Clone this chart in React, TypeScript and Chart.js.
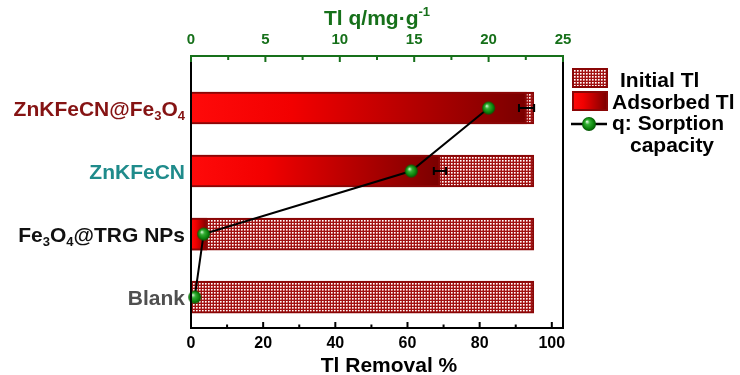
import React, { useEffect, useRef } from 'react';
import { Chart, registerables } from 'chart.js';

Chart.register(...registerables);

// ---- data (bottom to top on the category axis) ----
const categories = ['Blank', 'Fe₃O₄@TRG NPs', 'ZnKFeCN', 'ZnKFeCN@Fe₃O₄'];
const categoryColors = ['#4f4f4f', '#111111', '#1f8b8b', '#851313'];
const initialTl = [95, 95, 95, 95];
const adsorbedTl = [0, 4.4, 69, 93];
const adsorbedErr = [0, 0, 1.7, 2.1];
const sorptionQ = [0.25, 0.85, 14.8, 20.0];
const removalTicks = [0, 20, 40, 60, 80, 100];
const removalMinor = [10, 30, 50, 70, 90];
const qTicks = [0, 5, 10, 15, 20, 25];
const qMinor = [2.5, 7.5, 12.5, 17.5, 22.5];
const legendLabels = ['Initial Tl', 'Adsorbed Tl', 'q: Sorption', 'capacity'];
const bottomTitle = 'Tl Removal %';
const topTitle = 'Tl q/mg·g⁻¹';

const FONT = '"Liberation Sans", Arial, Helvetica, sans-serif';
const GREEN = '#16701a';
const DARKRED = '#8a0606';

const SUBS: Record<string, string> = { '₀': '0', '₁': '1', '₂': '2', '₃': '3', '₄': '4', '₅': '5', '₆': '6', '₇': '7', '₈': '8', '₉': '9' };
const SUPS: Record<string, string> = { '⁻': '-', '¹': '1', '²': '2', '³': '3' };

function segments(text: string) {
  const segs: { t: string; k: number }[] = [];
  for (const ch of text) {
    let k = 0;
    let c = ch;
    if (ch in SUBS) { k = 1; c = SUBS[ch]; }
    else if (ch in SUPS) { k = 2; c = SUPS[ch]; }
    const last = segs[segs.length - 1];
    if (last && last.k === k) last.t += c;
    else segs.push({ t: c, k });
  }
  return segs;
}

function drawRich(ctx: CanvasRenderingContext2D, text: string, x: number, baseline: number, size: number, color: string, align: 'left' | 'right' | 'center') {
  const big = `bold ${size}px ${FONT}`;
  const small = `bold ${Math.round(size * 0.6)}px ${FONT}`;
  const segs = segments(text);
  let w = 0;
  for (const s of segs) { ctx.font = s.k ? small : big; w += ctx.measureText(s.t).width; }
  let cx = align === 'right' ? x - w : align === 'center' ? x - w / 2 : x;
  ctx.fillStyle = color;
  ctx.textAlign = 'left';
  ctx.textBaseline = 'alphabetic';
  for (const s of segs) {
    ctx.font = s.k ? small : big;
    const dy = s.k === 1 ? size * 0.2 : s.k === 2 ? -size * 0.42 : 0;
    ctx.fillText(s.t, cx, baseline + dy);
    cx += ctx.measureText(s.t).width;
  }
}

function makeHatch(): CanvasPattern | string {
  const c = document.createElement('canvas');
  c.width = 3; c.height = 3;
  const g = c.getContext('2d');
  if (!g) return DARKRED;
  g.fillStyle = '#a01212'; g.fillRect(0, 0, 3, 3);
  g.fillStyle = '#e2a8a8'; g.fillRect(2, 1, 1, 1); g.fillRect(1, 2, 1, 1);
  g.fillStyle = '#ffffff'; g.fillRect(1, 1, 1, 1);
  g.fillStyle = '#cc6060'; g.fillRect(2, 2, 1, 1);
  return g.createPattern(c, 'repeat') || DARKRED;
}

function makeBall(r: number) {
  const s = Math.ceil(r * 2 + 2);
  const c = document.createElement('canvas');
  c.width = s; c.height = s;
  const g = c.getContext('2d')!;
  const cx = s / 2, cy = s / 2;
  const grd = g.createRadialGradient(cx - r * 0.3, cy - r * 0.35, r * 0.05, cx, cy, r);
  grd.addColorStop(0, '#d8f8d8');
  grd.addColorStop(0.3, '#35b035');
  grd.addColorStop(0.75, '#0b820b');
  grd.addColorStop(1, '#045204');
  g.fillStyle = grd;
  g.beginPath(); g.arc(cx, cy, r, 0, Math.PI * 2); g.fill();
  return c;
}

function redGradient(g: CanvasRenderingContext2D, x0: number, x1: number) {
  const gr = g.createLinearGradient(x0, 0, x1, 0);
  gr.addColorStop(0, '#ff0a0a');
  gr.addColorStop(0.3, '#f20000');
  gr.addColorStop(1, '#7a0000');
  return gr;
}

export default function App() {
  const ref = useRef<HTMLCanvasElement>(null);

  useEffect(() => {
    const canvas = ref.current;
    if (!canvas) return;
    const hatch = makeHatch();
    const ball = makeBall(6.5);
    const legendBall = makeBall(7);

    const decor = {
      id: 'decor',
      afterDatasetsDraw(chart: any) {
        const { ctx, chartArea: a, scales } = chart;
        const xs = scales.x, x2 = scales.x2, ys = scales.y;
        ctx.save();
        // error bars
        ctx.strokeStyle = '#000';
        ctx.lineWidth = 2;
        adsorbedErr.forEach((e, i) => {
          if (!e) return;
          const y = ys.getPixelForValue(i);
          const l = xs.getPixelForValue(adsorbedTl[i] - e);
          const r = xs.getPixelForValue(adsorbedTl[i] + e);
          ctx.beginPath();
          ctx.moveTo(l, y); ctx.lineTo(r, y);
          ctx.moveTo(l, y - 4); ctx.lineTo(l, y + 4);
          ctx.moveTo(r, y - 4); ctx.lineTo(r, y + 4);
          ctx.stroke();
        });
        // frame
        ctx.lineWidth = 2;
        ctx.strokeStyle = '#000';
        ctx.beginPath();
        ctx.moveTo(a.left, a.top); ctx.lineTo(a.left, a.bottom);
        ctx.moveTo(a.left - 1, a.bottom); ctx.lineTo(a.right + 1, a.bottom);
        ctx.moveTo(a.right, a.top); ctx.lineTo(a.right, a.bottom);
        ctx.stroke();
        ctx.strokeStyle = GREEN;
        ctx.beginPath();
        ctx.moveTo(a.left - 1, a.top); ctx.lineTo(a.right + 1, a.top);
        ctx.stroke();
        // inward ticks bottom
        ctx.strokeStyle = '#000';
        ctx.beginPath();
        removalTicks.forEach((v) => { const x = xs.getPixelForValue(v); ctx.moveTo(x, a.bottom); ctx.lineTo(x, a.bottom - 6); });
        removalMinor.forEach((v) => { const x = xs.getPixelForValue(v); ctx.moveTo(x, a.bottom); ctx.lineTo(x, a.bottom - 3.5); });
        ctx.stroke();
        // inward ticks top
        ctx.strokeStyle = GREEN;
        ctx.beginPath();
        qTicks.forEach((v) => { const x = x2.getPixelForValue(v); ctx.moveTo(x, a.top); ctx.lineTo(x, a.top + 6); });
        qMinor.forEach((v) => { const x = x2.getPixelForValue(v); ctx.moveTo(x, a.top); ctx.lineTo(x, a.top + 4); });
        ctx.stroke();
        ctx.restore();
      },
      afterDraw(chart: any) {
        const { ctx, chartArea: a, scales } = chart;
        const ys = scales.y;
        ctx.save();
        // category labels
        categories.forEach((c, i) => {
          const y = ys.getPixelForValue(i);
          drawRich(ctx, c, a.left - 6, y + 8, 21, categoryColors[i], 'right');
        });
        // axis titles
        drawRich(ctx, bottomTitle, (a.left + a.right) / 2 + 12, 372, 21, '#000', 'center');
        drawRich(ctx, topTitle, (a.left + a.right) / 2, 25, 21, GREEN, 'center');
        // legend
        const lx = 573, lw = 34;
        ctx.fillStyle = hatch as any;
        ctx.fillRect(lx, 69, lw, 18);
        ctx.strokeStyle = DARKRED; ctx.lineWidth = 2;
        ctx.strokeRect(lx, 69, lw, 18);
        drawRich(ctx, legendLabels[0], 620, 87, 21, '#000', 'left');

        ctx.fillStyle = redGradient(ctx, lx, lx + lw);
        ctx.fillRect(lx, 92, lw, 18);
        ctx.strokeStyle = DARKRED;
        ctx.strokeRect(lx, 92, lw, 18);
        drawRich(ctx, legendLabels[1], 612, 109, 21, '#000', 'left');

        ctx.strokeStyle = '#000'; ctx.lineWidth = 2.5;
        ctx.beginPath(); ctx.moveTo(lx - 2, 124); ctx.lineTo(lx + lw, 124); ctx.stroke();
        ctx.drawImage(legendBall, lx + 16 - legendBall.width / 2, 124 - legendBall.height / 2);
        drawRich(ctx, legendLabels[2], 612, 130, 21, '#000', 'left');
        drawRich(ctx, legendLabels[3], 630, 152, 21, '#000', 'left');
        ctx.restore();
      },
    };

    const adsorbedFill = (c: any) => {
      const chart = c.chart;
      const xs = chart.scales?.x;
      if (!xs || c.type !== 'data' || !c.parsed) return '#e00000';
      const x0 = xs.getPixelForValue(0);
      const x1 = xs.getPixelForValue(c.parsed.x);
      if (!Number.isFinite(x0) || !Number.isFinite(x1) || x1 - x0 < 1) return '#e00000';
      return redGradient(chart.ctx, x0, x1);
    };

    const chart = new Chart(canvas, {
      type: 'bar',
      data: {
        datasets: [
          {
            type: 'bar',
            label: legendLabels[0],
            data: initialTl.map((v, i) => ({ x: v, y: i })),
            backgroundColor: hatch as any,
            borderColor: DARKRED,
            borderWidth: 2,
            barThickness: 32,
            grouped: false,
            order: 2,
            xAxisID: 'x',
            yAxisID: 'y',
          } as any,
          {
            type: 'bar',
            label: legendLabels[1],
            data: adsorbedTl.map((v, i) => ({ x: v, y: i })),
            backgroundColor: adsorbedFill,
            borderColor: DARKRED,
            borderWidth: 2,
            barThickness: 32,
            grouped: false,
            order: 1,
            xAxisID: 'x',
            yAxisID: 'y',
          } as any,
          {
            type: 'line',
            label: legendLabels[2] + ' ' + legendLabels[3],
            data: sorptionQ.map((v, i) => ({ x: v, y: i })),
            borderColor: '#000',
            borderWidth: 2,
            pointStyle: ball as any,
            pointRadius: 6.5,
            fill: false,
            tension: 0,
            clip: false as any,
            order: 0,
            indexAxis: 'y',
            xAxisID: 'x2',
            yAxisID: 'y',
          } as any,
        ],
      },
      options: {
        responsive: false,
        animation: false,
        events: [],
        indexAxis: 'y',
        layout: { padding: { left: 0, right: 177, top: 0, bottom: 0 } },
        plugins: { legend: { display: false }, tooltip: { enabled: false } },
        scales: {
          x: {
            type: 'linear',
            position: 'bottom',
            min: 0,
            max: 103.1,
            offset: false,
            afterBuildTicks: (s: any) => { s.ticks = removalTicks.map((v) => ({ value: v })); },
            afterFit: (s: any) => { s.height = 47; },
            grid: { display: false, drawTicks: false },
            border: { display: false },
            ticks: { color: '#000', padding: 6, font: { family: FONT, size: 16, weight: 'bold' } },
          },
          x2: {
            type: 'linear',
            axis: 'x',
            position: 'top',
            min: 0,
            max: 25,
            offset: false,
            afterBuildTicks: (s: any) => { s.ticks = qTicks.map((v) => ({ value: v })); },
            afterFit: (s: any) => { s.height = 56; },
            grid: { display: false, drawTicks: false },
            border: { display: false },
            ticks: { color: GREEN, padding: 7, font: { family: FONT, size: 15, weight: 'bold' } },
          },
          y: {
            type: 'linear',
            position: 'left',
            min: -0.49,
            max: 3.825,
            offset: false,
            afterBuildTicks: (s: any) => { s.ticks = categories.map((_, i) => ({ value: i })); },
            afterFit: (s: any) => { s.width = 191; },
            grid: { display: false, drawTicks: false, offset: false },
            border: { display: false },
            ticks: { display: false },
          },
        } as any,
      },
      plugins: [decor],
    } as any);

    return () => chart.destroy();
  }, []);

  return (
    <div style={{ position: 'absolute', left: 0, top: 0, width: 740, height: 375, background: '#fff' }}>
      <canvas ref={ref} width={740} height={375} style={{ display: 'block', width: 740, height: 375 }} />
    </div>
  );
}
